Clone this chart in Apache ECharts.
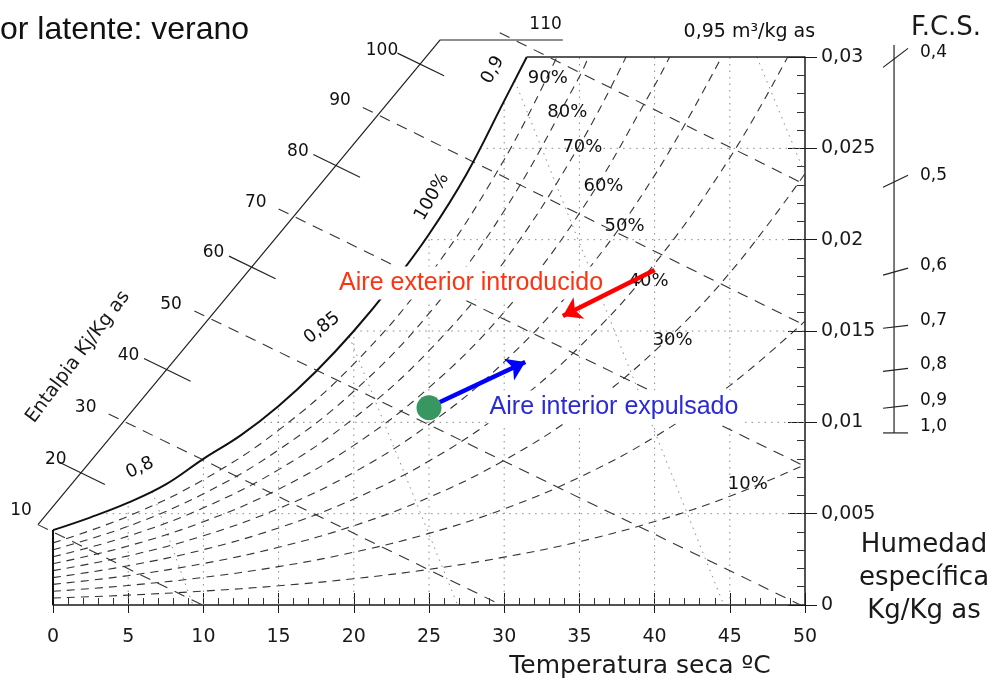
<!DOCTYPE html>
<html>
<head>
<meta charset="utf-8">
<title>Diagrama psicrométrico</title>
<script src="https://cdn.jsdelivr.net/npm/echarts@6.0.0/dist/echarts.min.js"></script>
<style>
  html, body { margin: 0; padding: 0; background: #fff; }
  #chart { width: 992px; height: 684px; }
</style>
</head>
<body>
<div id="chart"></div>
<script>
var humTickLabels = ['0', '0,005', '0,01', '0,015', '0,02', '0,025', '0,03'];

// curva de saturación 100%
var satT = [0, 2.5, 5, 7.5, 10, 12.5, 15, 17.5, 20, 22.5, 25, 27.5, 30, 31.5];
var satW = [0.0041, 0.0048, 0.0056, 0.0066, 0.0080, 0.0093, 0.0109, 0.0128, 0.0150, 0.0175, 0.0203, 0.0236, 0.0276, 0.0300];

// humedad relativa  [t, W]
var rh10 = [[0, 0.00038], [5, 0.00054], [10, 0.00076], [15, 0.00105], [20, 0.00144], [25, 0.00195], [30, 0.00262], [35, 0.00347], [40, 0.00457], [45, 0.00595], [50, 0.00768]];
var rh20 = [[0, 0.00075], [5, 0.00107], [10, 0.00151], [15, 0.0021], [20, 0.00289], [25, 0.00392], [30, 0.00526], [35, 0.00699], [40, 0.0092], [45, 0.01201], [50, 0.01554]];
var rh30 = [[0, 0.00113], [5, 0.00161], [10, 0.00227], [15, 0.00316], [20, 0.00434], [25, 0.00589], [30, 0.00792], [35, 0.01054], [40, 0.0139], [45, 0.01818], [50, 0.02361]];
var rh40 = [[0, 0.0015], [5, 0.00215], [10, 0.00303], [15, 0.00422], [20, 0.0058], [25, 0.00788], [30, 0.0106], [35, 0.01413], [40, 0.01868], [45, 0.02448], [48.85, 0.03]];
var rh50 = [[0, 0.00188], [5, 0.00269], [10, 0.00379], [15, 0.00528], [20, 0.00726], [25, 0.00988], [30, 0.01331], [35, 0.01777], [40, 0.02352], [44.45, 0.03]];
var rh60 = [[0, 0.00226], [5, 0.00323], [10, 0.00456], [15, 0.00634], [20, 0.00874], [25, 0.0119], [30, 0.01604], [35, 0.02144], [40, 0.02844], [41.0, 0.03]];
var rh70 = [[0, 0.00264], [5, 0.00377], [10, 0.00532], [15, 0.00741], [20, 0.01022], [25, 0.01392], [30, 0.0188], [35, 0.02516], [38.1, 0.03]];
var rh80 = [[0, 0.00302], [5, 0.00431], [10, 0.00609], [15, 0.00849], [20, 0.0117], [25, 0.01596], [30, 0.02158], [35, 0.02892], [35.6, 0.03]];
var rh90 = [[0, 0.0034], [5, 0.00486], [10, 0.00686], [15, 0.00957], [20, 0.0132], [25, 0.01802], [30, 0.02438], [33.5, 0.03]];
var rhLabels = ['90%', '80%', '70%', '60%', '50%', '40%', '30%', '10%'];
var rhLabelT = [32.9, 34.2, 35.2, 36.6, 38.0, 39.6, 41.2, 46.2];
var rhLabelW = [0.02885, 0.02699, 0.02507, 0.02294, 0.02075, 0.01774, 0.01451, 0.00662];

// entalpía kJ/kg as
var hScale = [[-1.0, 0.0044], [25.73, 0.03093], [33.9, 0.03093]];
var hValues = [10, 20, 30, 40, 50, 60, 70, 80, 90, 100, 110];
var hScaleT = [-1.0, 1.85, 4.70, 7.55, 10.38, 13.20, 16.01, 18.81, 21.61, 24.40, 30.69];
var hScaleW = [0.0044, 0.00724, 0.01006, 0.01289, 0.0157, 0.0185, 0.02128, 0.02406, 0.02684, 0.02961, 0.03093];
var hDashStart = [[-1.0, 0.0044], [3.7, 0.01046], [9.4, 0.0161], [15.0, 0.02168], [20.6, 0.02724], [29.7, 0.03133]];
var hDashEnd = [[9.94, 0], [29.8, 0], [49.7, 0], [50, 0.00759], [50, 0.01531], [50, 0.02302]];
var hTickFrom = [[0.35, 0.00784], [6.05, 0.01349], [11.7, 0.0191], [17.31, 0.02466], [22.9, 0.03021]];
var hTickTo = [[3.45, 0.0066], [9.15, 0.01225], [14.8, 0.01786], [20.41, 0.02342], [26.0, 0.02897]];

// volumen específico m3/kg as
var v080 = [[6.6, 0.0062], [9.3, 0]];
var v085 = [[19.7, 0.0147], [26.9, 0]];
var v090 = [[30.7, 0.0287], [44.6, 0]];
var v095 = [[46.8, 0.03], [50, 0.0236]];

// retícula punteada
var gridT = [5, 10, 15, 20, 25, 30, 35, 40, 45];
var gridTopW = [0.0056, 0.008, 0.0109, 0.015, 0.0203, 0.0276, 0.03, 0.03, 0.03];
var gridW = [0.005, 0.01, 0.015, 0.02, 0.025];
var gridLeftT = [3.1, 13.6, 20.0, 24.7, 28.4];

// escala F.C.S.
var fcsLabels = ['0,4', '0,5', '0,6', '0,7', '0,8', '0,9', '1,0'];
var fcsW = [0.02989, 0.02316, 0.01823, 0.01522, 0.01286, 0.01084, 0.00942];
var fcsTilt = [0.00104, 0.00066, 0.00038, 0.00016, 0.00016, 0.00016, 0];
var fcsT = 55.92, fcsTopW = 0.03066;

// puntos y flechas
var interior = [25, 0.0108];
var blueArrow = [[25.7, 0.0111], [31.4, 0.0133]];
var redArrow = [[40.0, 0.01834], [33.9, 0.01582]];

// --- construcción ---
var dashRH = { color: '#333', width: 1.1, type: [8, 6] };
var dashH = { color: '#333', width: 1.1, type: [11, 8] };
var dotted = { color: '#8a8a8a', width: 1, type: [1.5, 5] };
var thin = { color: '#222', width: 1.2 };
var chartFont = 'DejaVu Sans';

var series = [];
// curvas
function curve(data, style, z) {
  series.push({ type: 'line', data: data, symbol: 'none', clip: false, silent: true, animation: false,
    smooth: 0.4, lineStyle: style, z: z || 2 });
}
// segmentos rectos (también fuera del área de ejes)
function segs(list, style, z) {
  var ls = { opacity: 1, curveness: 0 };
  for (var k in style) ls[k] = style[k];
  series.push({ type: 'lines', coordinateSystem: 'cartesian2d', polyline: true, clip: false, silent: true,
    animation: false, z: z || 2, lineStyle: ls, data: list.map(function (c) { return { coords: c }; }) });
}
function text(data, label, z) {
  var lab = { show: true, position: 'inside', color: '#111', fontFamily: chartFont, fontSize: 17,
    textBorderWidth: 0, formatter: function (p) { return p.value[2]; } };
  for (var k in label) lab[k] = label[k];
  series.push({ type: 'scatter', data: data, symbol: 'circle', symbolSize: 0, itemStyle: { color: '#000', opacity: 1 },
    clip: false, silent: true, animation: false, z: z || 5, label: lab });
}

// retícula y volumen específico
segs(gridT.map(function (t, i) { return [[t, 0], [t, gridTopW[i]]]; })
  .concat(gridW.map(function (w, i) { return [[gridLeftT[i], w], [50, w]]; }))
  .concat([v080, v085, v090, v095]), dotted);

// humedad relativa
[rh10, rh20, rh30, rh40, rh50, rh60, rh70, rh80, rh90].forEach(function (d) { curve(d, dashRH); });

// entalpía
segs([hScale], thin);
segs(hDashStart.map(function (p, i) { return [p, hDashEnd[i]]; }), dashH);
segs(hTickFrom.map(function (p, i) { return [p, hTickTo[i]]; }), thin);
text(hValues.map(function (h, i) {
  var off = [-38, -14];
  if (h === 10) off = [-17, -14];
  if (h === 20) off = [-25, -13];
  if (h === 110) off = [31, -15];
  return { value: [hScaleT[i], hScaleW[i], String(h)], label: { offset: off } };
}));

// saturación y contorno
curve(satT.map(function (t, i) { return [t, satW[i]]; }), { color: '#111', width: 2 }, 3);
segs([[[0, 0], [0, satW[0]]]], { color: '#111', width: 2 }, 3);
segs([[[satT[satT.length - 1], 0.03], [50, 0.03]]], { color: '#222', width: 1.5 }, 3);

// rótulos de humedad relativa y volumen
text(rhLabels.map(function (s, i) { return [rhLabelT[i], rhLabelW[i], s]; }), { fontSize: 18 });
text([{ value: [25.2, 0.02234, '100%'], label: { rotate: 60 } },
      { value: [5.78, 0.0075, '0,8'], label: { rotate: 25 } },
      { value: [17.9, 0.01516, '0,85'], label: { rotate: 38 } },
      { value: [29.25, 0.02929, '0,9'], label: { rotate: 62 } },
      { value: [46.3, 0.03137, '0,95 m³/kg as'], label: { fontSize: 19 } }], { fontSize: 18 });

// escala F.C.S.
segs([[[fcsT, fcsW[fcsW.length - 1]], [fcsT, fcsTopW]]].concat(fcsW.map(function (w, i) {
  return [[fcsT - 0.73, w - fcsTilt[i] * 0.44], [fcsT + 0.93, w + fcsTilt[i] * 0.56]];
})), thin);
text(fcsW.map(function (w, i) { return [fcsT, w, fcsLabels[i]]; }), { position: 'right', distance: 26, offset: [0, -6] });

// aire exterior / interior
text([[27.8, 0.01763, 'Aire exterior introducido']], { color: '#ff3311', fontSize: 25, fontFamily: 'Liberation Sans', backgroundColor: '#fff', padding: [4, 2] }, 7);
text([[37.3, 0.01084, 'Aire interior expulsado']], { color: '#2a2ad6', fontSize: 25, fontFamily: 'Liberation Sans', backgroundColor: '#fff', padding: [4, 2] }, 7);
series.push({ type: 'lines', coordinateSystem: 'cartesian2d', silent: true, animation: false, z: 8,
  symbol: ['none', 'arrow'], symbolSize: 18,
  data: [{ coords: blueArrow, lineStyle: { color: '#0000ff' } }, { coords: redArrow, lineStyle: { color: '#ff0000' } }],
  lineStyle: { width: 4.5, opacity: 1, curveness: 0 } });
series.push({ type: 'scatter', data: [interior], symbolSize: 25, itemStyle: { color: '#389660', opacity: 1 }, silent: true, animation: false, z: 9 });

var axisColor = '#1a1a1a';
var option = {
  animation: false,
  backgroundColor: '#fff',
  grid: { left: 53, right: 187, top: 57, bottom: 79 },
  xAxis: [
    // eje principal: marcas y submarcas hacia dentro
    { type: 'value', min: 0, max: 50, interval: 5, position: 'bottom',
      axisLine: { onZero: false, lineStyle: { color: axisColor, width: 1.5 } },
      axisTick: { inside: true, length: 12, lineStyle: { color: axisColor } },
      minorTick: { show: true, splitNumber: 5, length: 7, lineStyle: { color: '#333' } },
      axisLabel: { margin: 23, fontSize: 19, fontFamily: chartFont, color: axisColor },
      splitLine: { show: false } },
    // parte exterior de las marcas: eje superior desplazado hasta la base
    { type: 'value', min: 0, max: 50, interval: 5, position: 'top', offset: -548,
      axisLine: { show: false, onZero: false },
      axisTick: { inside: true, length: 8, lineStyle: { color: axisColor } },
      axisLabel: { show: false }, splitLine: { show: false } }
  ],
  yAxis: [
    { type: 'value', min: 0, max: 0.03, interval: 0.005, position: 'right',
      axisLine: { show: true, onZero: false, lineStyle: { color: axisColor, width: 1.5 } },
      axisTick: { show: true, inside: true, length: 17, lineStyle: { color: axisColor } },
      minorTick: { show: true, splitNumber: 5, length: 8, lineStyle: { color: '#333' } },
      axisLabel: { margin: 16, fontSize: 19, fontFamily: chartFont, color: axisColor,
        formatter: function (v) { return humTickLabels[Math.round(v / 0.005)]; } },
      splitLine: { show: false } },
    // parte exterior de las marcas: eje izquierdo desplazado hasta la derecha
    { type: 'value', min: 0, max: 0.03, interval: 0.005, position: 'left', offset: -752,
      axisLine: { show: false, onZero: false },
      axisTick: { show: true, inside: true, length: 12, lineStyle: { color: axisColor } },
      axisLabel: { show: false }, splitLine: { show: false } }
  ],
  graphic: [
    { type: 'text', x: 0, y: 30, style: { text: 'or latente: verano', font: '32px "Liberation Sans"', fill: '#111', textAlign: 'left', textVerticalAlign: 'middle' } },
    { type: 'text', x: 640, y: 666, style: { text: 'Temperatura seca ºC', font: '25px "DejaVu Sans"', fill: '#1a1a1a', textAlign: 'center', textVerticalAlign: 'middle' } },
    { type: 'text', x: 924, y: 545, style: { text: 'Humedad', font: '26px "DejaVu Sans"', fill: '#1a1a1a', textAlign: 'center', textVerticalAlign: 'middle' } },
    { type: 'text', x: 924, y: 578, style: { text: 'específica', font: '26px "DejaVu Sans"', fill: '#1a1a1a', textAlign: 'center', textVerticalAlign: 'middle' } },
    { type: 'text', x: 924, y: 611, style: { text: 'Kg/Kg as', font: '26px "DejaVu Sans"', fill: '#1a1a1a', textAlign: 'center', textVerticalAlign: 'middle' } },
    { type: 'text', x: 946, y: 28, style: { text: 'F.C.S.', font: '26px "DejaVu Sans"', fill: '#1a1a1a', textAlign: 'center', textVerticalAlign: 'middle' } },
    { type: 'text', x: 78, y: 357, rotation: 53 * Math.PI / 180, style: { text: 'Entalpia Kj/Kg as', font: '19px "DejaVu Sans"', fill: '#1a1a1a', textAlign: 'center', textVerticalAlign: 'middle' } }
  ],
  series: series
};

var chart = echarts.init(document.getElementById('chart'));
chart.setOption(option);
</script>
</body>
</html>
